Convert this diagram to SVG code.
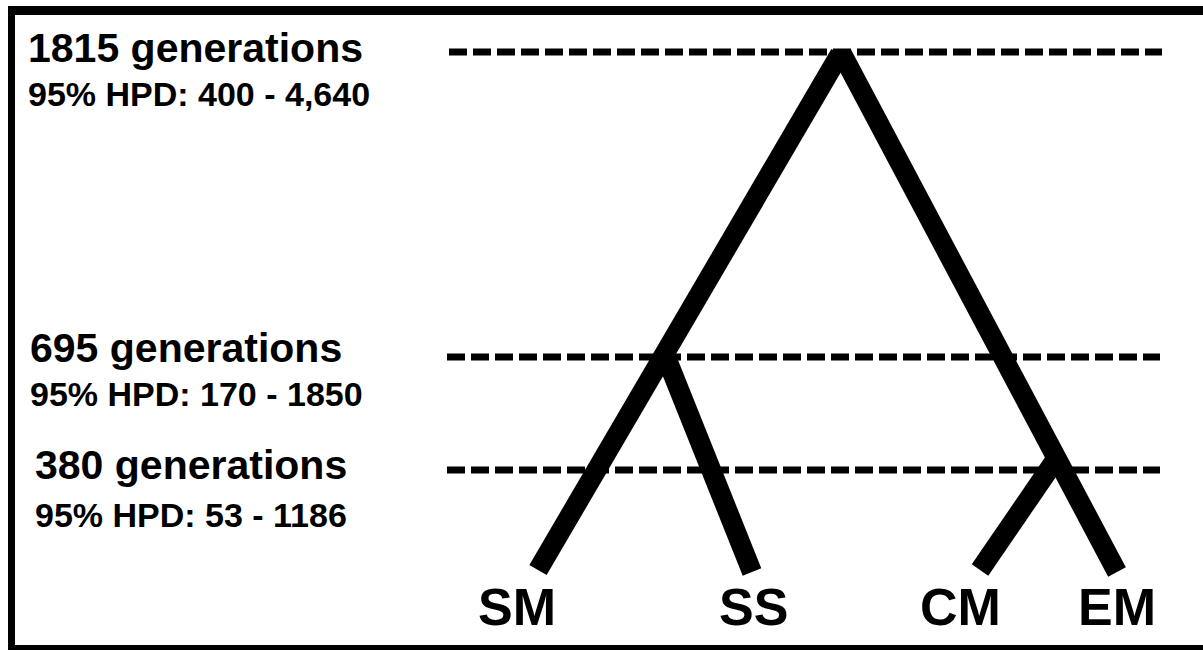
<svg xmlns="http://www.w3.org/2000/svg" width="1203" height="650" viewBox="0 0 1203 650">
<style>
.t{font-family:"Liberation Sans",Arial,sans-serif;font-weight:bold;fill:#000}
.h{font-size:41px}
.s{font-size:34px}
.leaf{font-size:52px}
.dash{stroke:#000;stroke-width:7;stroke-dasharray:18 6;fill:none}
.br{stroke:#000;stroke-width:20;stroke-linecap:butt;fill:none}
</style>
<rect width="1203" height="650" fill="#fff"/>
<g id="frame">
<rect x="8" y="6" width="1195" height="9" fill="#000"/>
<rect x="8" y="6" width="7" height="644" fill="#000"/>
<rect x="8" y="645" width="1195" height="5" fill="#000"/>
</g>
<g id="labels">
<text class="t h" x="28" y="62">1815 generations</text>
<text class="t s" x="28" y="106">95% HPD: 400 - 4,640</text>
<text class="t h" x="30" y="362">695 generations</text>
<text class="t s" x="30" y="406">95% HPD: 170 - 1850</text>
<text class="t h" x="35" y="479">380 generations</text>
<text class="t s" x="35" y="527">95% HPD: 53 - 1186</text>
</g>
<g id="connectors">
<line class="dash" x1="449" y1="52" x2="1162" y2="52"/>
<line class="dash" x1="447" y1="357" x2="1160" y2="357"/>
<line class="dash" x1="447" y1="470" x2="1160" y2="470"/>
<line class="br" x1="840" y1="54" x2="538" y2="570"/>
<line class="br" x1="842" y1="54" x2="1117" y2="572"/>
<line class="br" x1="664" y1="352" x2="752" y2="572"/>
<line class="br" x1="1054" y1="462" x2="980" y2="570"/>
</g>
<g id="SM"><text class="t leaf" x="478" y="625">SM</text></g>
<g id="SS"><text class="t leaf" x="719" y="625">SS</text></g>
<g id="CM"><text class="t leaf" x="920" y="625">CM</text></g>
<g id="EM"><text class="t leaf" x="1078" y="625">EM</text></g>
</svg>
